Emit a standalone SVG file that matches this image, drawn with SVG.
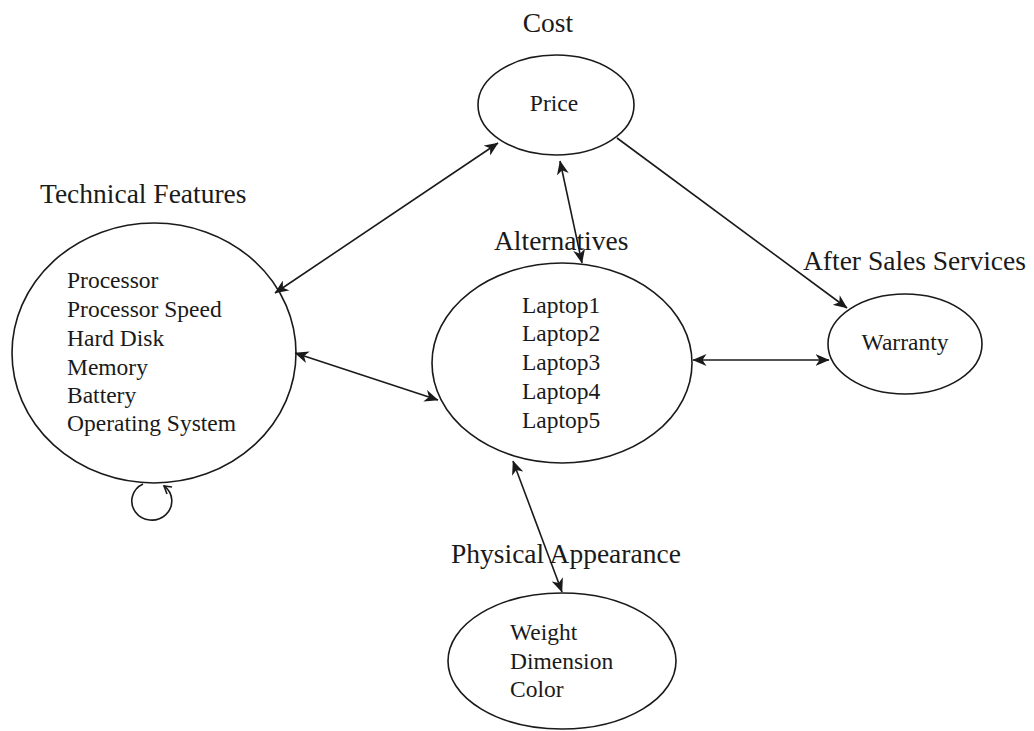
<svg xmlns="http://www.w3.org/2000/svg" width="1034" height="731" viewBox="0 0 1034 731">
  <style>
    .node { fill: #ffffff; stroke: #1a1a1a; stroke-width: 1.6; }
    .head { font-family: "Liberation Serif", "Times New Roman", serif; font-size: 27.5px; fill: #1a1a1a; }
    .item { font-family: "Liberation Serif", "Times New Roman", serif; font-size: 23.5px; fill: #1a1a1a; }
    .edge { fill: none; stroke: #1a1a1a; stroke-width: 1.6; }
  </style>
  <defs>
    <marker id="arrow" viewBox="0 0 14 12" refX="13.5" refY="6" markerWidth="14" markerHeight="12" markerUnits="userSpaceOnUse" orient="auto-start-reverse">
      <path d="M0,0 L14,6 L0,12 L4,6 Z" fill="#1a1a1a"/>
    </marker>
  </defs>
  <rect width="1034" height="731" fill="#ffffff"/>

  <!-- Cost / Price -->
  <g id="node-price">
    <text class="head" x="548" y="32" text-anchor="middle">Cost</text>
    <ellipse class="node" cx="556" cy="105" rx="78" ry="50"/>
    <text class="item" x="554" y="111" text-anchor="middle">Price</text>
  </g>

  <!-- Technical Features -->
  <g id="node-technical">
    <text class="head" x="40" y="203">Technical Features</text>
    <ellipse class="node" cx="154" cy="353" rx="142" ry="130"/>
    <text class="item" x="67" y="288">Processor</text>
    <text class="item" x="67" y="317">Processor Speed</text>
    <text class="item" x="67" y="346">Hard Disk</text>
    <text class="item" x="67" y="375">Memory</text>
    <text class="item" x="67" y="403">Battery</text>
    <text class="item" x="67" y="431">Operating System</text>
  </g>

  <!-- Alternatives -->
  <g id="node-alternatives">
    <text class="head" x="494" y="250">Alternatives</text>
    <ellipse class="node" cx="562" cy="363" rx="130" ry="100"/>
    <text class="item" x="522" y="312.5">Laptop1</text>
    <text class="item" x="522" y="341.3">Laptop2</text>
    <text class="item" x="522" y="370">Laptop3</text>
    <text class="item" x="522" y="398.8">Laptop4</text>
    <text class="item" x="522" y="427.5">Laptop5</text>
  </g>

  <!-- After Sales Services -->
  <g id="node-warranty">
    <text class="head" x="803" y="270">After Sales Services</text>
    <ellipse class="node" cx="905" cy="344" rx="77" ry="50"/>
    <text class="item" x="905" y="350" text-anchor="middle" font-size="23">Warranty</text>
  </g>

  <!-- Physical Appearance -->
  <g id="node-physical">
    <text class="head" x="451" y="563">Physical Appearance</text>
    <ellipse class="node" cx="562" cy="661" rx="114" ry="68"/>
    <text class="item" x="510" y="640">Weight</text>
    <text class="item" x="510" y="668.5">Dimension</text>
    <text class="item" x="510" y="697">Color</text>
  </g>

  <!-- Connectors -->
  <g id="connectors">
    <line class="edge" x1="275" y1="293" x2="498" y2="143" marker-start="url(#arrow)" marker-end="url(#arrow)"/>
    <line class="edge" x1="295" y1="353" x2="438" y2="400" marker-start="url(#arrow)" marker-end="url(#arrow)"/>
    <line class="edge" x1="560" y1="161" x2="582" y2="263" marker-start="url(#arrow)" marker-end="url(#arrow)"/>
    <line class="edge" x1="617" y1="138" x2="847" y2="308" marker-end="url(#arrow)"/>
    <line class="edge" x1="693" y1="360" x2="829" y2="360" marker-start="url(#arrow)" marker-end="url(#arrow)"/>
    <line class="edge" x1="513" y1="461" x2="562" y2="592" marker-start="url(#arrow)" marker-end="url(#arrow)"/>
    <!-- self loop on Technical Features -->
    <path class="edge" d="M143,484 A20,19 0 1 0 164,486"/>
    <path class="edge" d="M172,487 L164,486 L167,494"/>
  </g>
</svg>
